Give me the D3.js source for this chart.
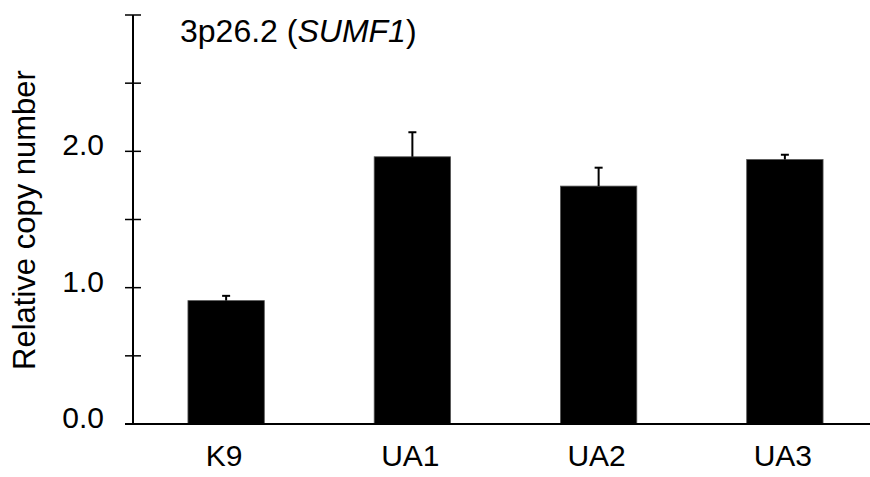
<!DOCTYPE html>
<html>
<head>
<meta charset="utf-8">
<script src="https://cdn.jsdelivr.net/npm/d3@7"></script>
<style>
  body { margin: 0; background: #fff; }
  text { font-family: Arial, "Liberation Sans", sans-serif; fill: #000; }
</style>
</head>
<body>
<div class="chart-wrapper"></div>
<script>
const samples = ["K9", "UA1", "UA2", "UA3"]
const copyNumber = [0.905, 1.96, 1.745, 1.94]
const errUpper = [0.94, 2.14, 1.88, 1.975]
const yTicks = [0, 0.5, 1, 1.5, 2, 2.5, 3]
const yLabelled = [0, 1, 2]

let svg = d3.select(".chart-wrapper").append("svg").attr("width", 870).attr("height", 477)

let x = d3.scaleBand()
    .domain(samples)
    .range([133, 878])
    .paddingInner(0.59)
    .paddingOuter(0.295)

let y = d3.scaleLinear()
    .domain([0, 3])
    .range([424, 15])

// bars
svg.selectAll("rect.bar")
  .data(samples)
  .enter().append("rect")
  .attr("class", "bar")
  .attr("x", d => x(d))
  .attr("width", x.bandwidth())
  .attr("y", (d, i) => y(copyNumber[i]))
  .attr("height", (d, i) => y(0) - y(copyNumber[i]))
  .attr("fill", "#000")
  .attr("stroke", "#555")
  .attr("stroke-width", 0.8)

// error bars (upper only)
let err = svg.selectAll("g.err")
  .data(samples)
  .enter().append("g")
  .attr("class", "err")
  .attr("transform", d => `translate(${x(d) + x.bandwidth() / 2},0)`)

err.append("line")
  .attr("y1", (d, i) => y(copyNumber[i]))
  .attr("y2", (d, i) => y(errUpper[i]))
  .attr("stroke", "#000").attr("stroke-width", 2)

err.append("line")
  .attr("x1", -4).attr("x2", 4)
  .attr("y1", (d, i) => y(errUpper[i]))
  .attr("y2", (d, i) => y(errUpper[i]))
  .attr("stroke", "#000").attr("stroke-width", 2)

// y axis
svg.append("line")
  .attr("x1", 133).attr("x2", 133)
  .attr("y1", y(3)).attr("y2", y(0))
  .attr("stroke", "#000").attr("stroke-width", 2)

svg.selectAll("line.ytick")
  .data(yTicks)
  .enter().append("line")
  .attr("class", "ytick")
  .attr("x1", 125).attr("x2", 141)
  .attr("y1", d => y(d)).attr("y2", d => y(d))
  .attr("stroke", "#000").attr("stroke-width", 1.5)

svg.selectAll("text.ylab")
  .data(yLabelled)
  .enter().append("text")
  .attr("class", "ylab")
  .attr("x", 104)
  .attr("y", d => y(d) + 4)
  .attr("text-anchor", "end")
  .style("font-size", "30px")
  .text(d => d3.format(".1f")(d))

// x axis
svg.append("line")
  .attr("x1", 125).attr("x2", 870)
  .attr("y1", y(0)).attr("y2", y(0))
  .attr("stroke", "#000").attr("stroke-width", 2)

svg.selectAll("text.xlab")
  .data(samples)
  .enter().append("text")
  .attr("class", "xlab")
  .attr("x", d => x(d) + x.bandwidth() / 2 - 2)
  .attr("y", 466)
  .attr("text-anchor", "middle")
  .style("font-size", "30px")
  .text(d => d)

// y axis title
svg.append("text")
  .attr("transform", "translate(35,220) rotate(-90)")
  .attr("text-anchor", "middle")
  .style("font-size", "31px")
  .text("Relative copy number")

// panel title
let title = svg.append("text")
  .attr("x", 180).attr("y", 42)
  .style("font-size", "32px")
title.append("tspan").text("3p26.2 (")
title.append("tspan").style("font-style", "italic").text("SUMF1")
title.append("tspan").text(")")
</script>
</body>
</html>
